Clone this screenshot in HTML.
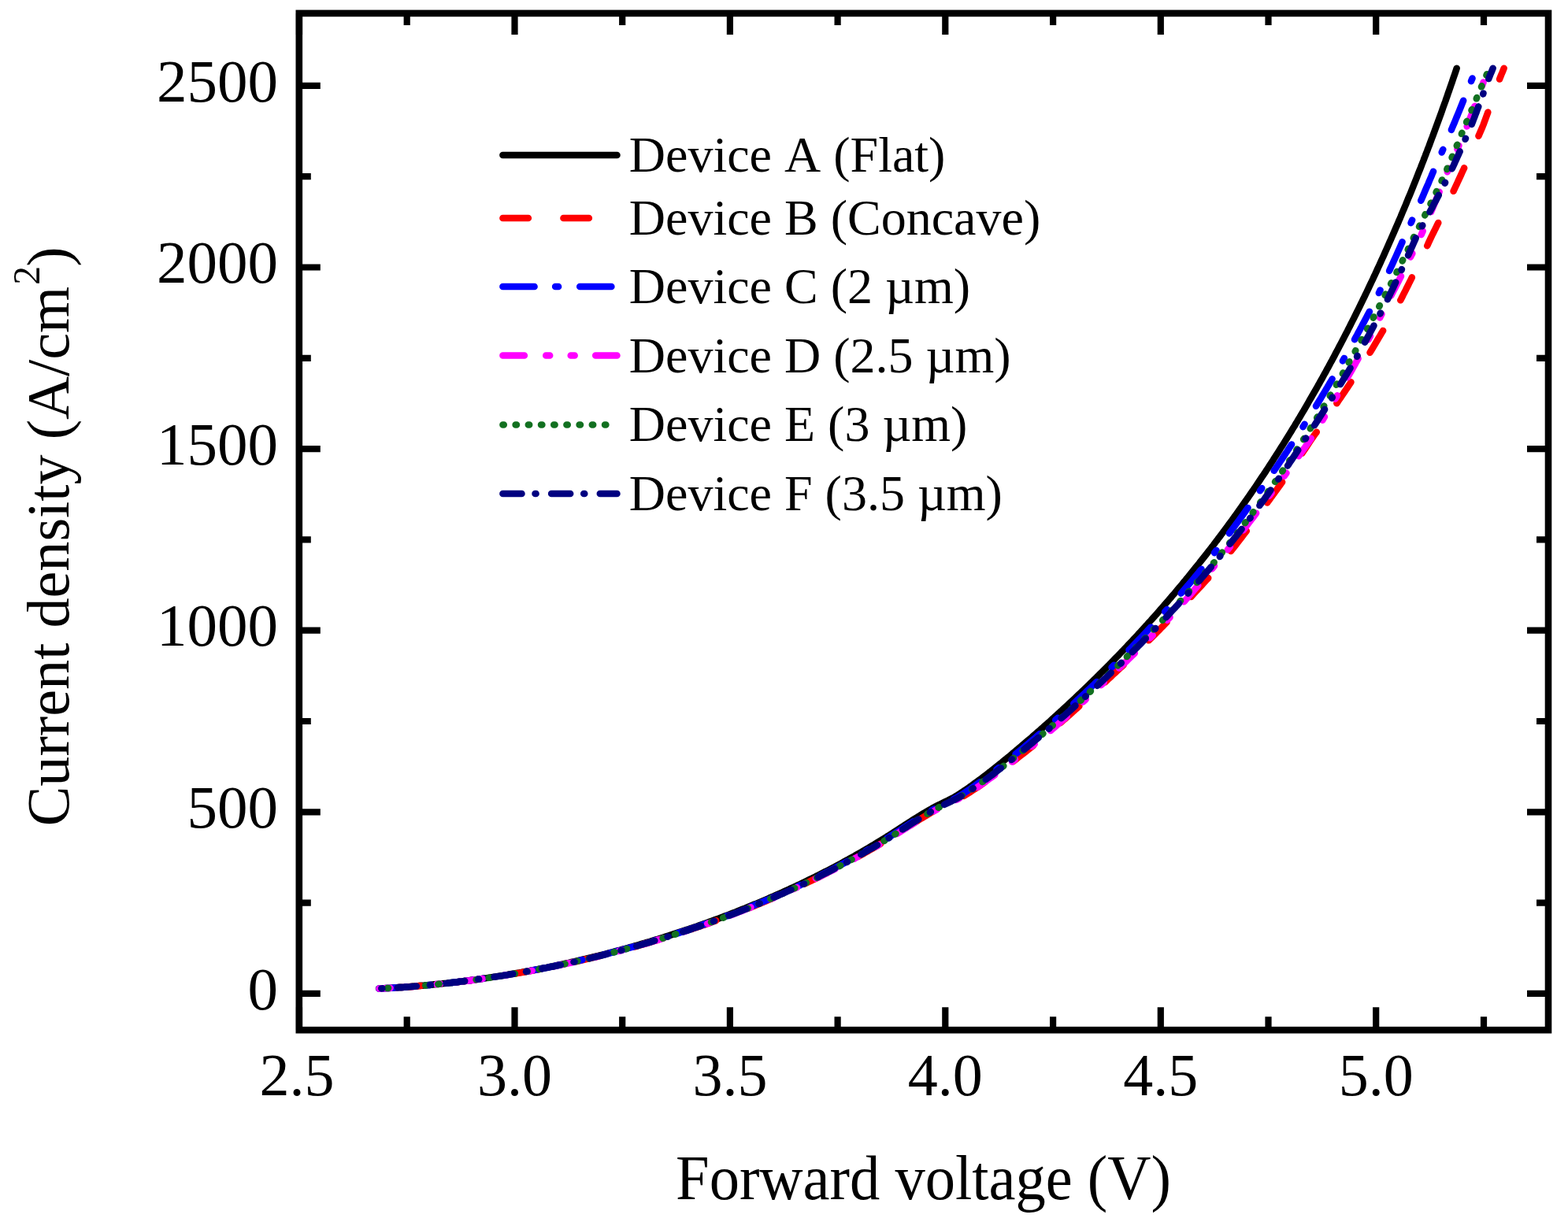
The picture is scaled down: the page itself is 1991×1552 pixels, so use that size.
<!DOCTYPE html>
<html><head><meta charset="utf-8"><title>Current density vs forward voltage</title>
<style>html,body{margin:0;padding:0;background:#fff;}svg{display:block;}</style></head>
<body>
<svg width="1991" height="1552" viewBox="0 0 1991 1552">
<rect width="1991" height="1552" fill="#fff"/>
<g fill="none" stroke-width="8.5" stroke-linecap="round" stroke-linejoin="round">
<path d="M481.0,1255.6 L484.2,1255.4 L487.4,1255.3 L490.6,1255.1 L493.8,1254.9 L497.0,1254.7 L500.2,1254.5 L503.4,1254.3 L506.6,1254.1 L509.8,1253.9 L513.0,1253.7 L516.2,1253.4 L519.4,1253.2 L522.6,1252.9 L525.8,1252.7 L529.0,1252.4 L532.2,1252.1 L535.4,1251.8 L538.6,1251.6 L541.8,1251.3 L544.9,1251.0 L548.1,1250.7 L551.3,1250.3 L554.5,1250.0 L557.7,1249.7 L560.9,1249.4 L564.1,1249.0 L567.3,1248.7 L570.5,1248.3 L573.6,1247.9 L576.8,1247.6 L580.0,1247.2 L583.2,1246.8 L586.4,1246.4 L589.6,1246.0 L592.7,1245.6 L595.9,1245.2 L599.1,1244.7 L602.3,1244.3 L605.4,1243.9 L608.6,1243.4 L611.8,1243.0 L615.0,1242.5 L618.1,1242.1 L621.3,1241.6 L624.5,1241.1 L627.7,1240.6 L630.8,1240.1 L634.0,1239.6 L637.2,1239.1 L640.3,1238.6 L643.5,1238.1 L646.6,1237.5 L649.8,1237.0 L653.0,1236.5 L656.1,1235.9 L659.3,1235.4 L662.4,1234.8 L665.6,1234.2 L668.8,1233.6 L671.9,1233.1 L675.1,1232.5 L678.2,1231.9 L681.4,1231.3 L684.5,1230.6 L687.7,1230.0 L690.8,1229.4 L693.9,1228.8 L697.1,1228.1 L700.2,1227.5 L703.4,1226.8 L706.5,1226.2 L709.6,1225.5 L712.8,1224.8 L715.9,1224.1 L719.1,1223.4 L722.2,1222.8 L725.3,1222.0 L728.4,1221.3 L731.6,1220.6 L734.7,1219.9 L737.8,1219.2 L740.9,1218.4 L744.1,1217.7 L747.2,1216.9 L750.3,1216.2 L753.4,1215.4 L756.5,1214.6 L759.6,1213.9 L762.7,1213.1 L765.9,1212.3 L769.0,1211.5 L772.1,1210.7 L775.2,1209.9 L778.3,1209.1 L781.4,1208.2 L784.5,1207.4 L787.6,1206.6 L790.7,1205.7 L793.8,1204.9 L796.9,1204.0 L799.9,1203.1 L803.0,1202.3 L806.1,1201.4 L809.2,1200.5 L812.3,1199.6 L815.4,1198.7 L818.4,1197.8 L821.5,1196.9 L824.6,1196.0 L827.7,1195.0 L830.7,1194.1 L833.8,1193.2 L836.9,1192.2 L839.9,1191.3 L843.0,1190.3 L846.0,1189.3 L849.1,1188.4 L852.2,1187.4 L855.2,1186.4 L858.3,1185.4 L861.3,1184.4 L864.4,1183.4 L867.4,1182.4 L870.4,1181.4 L873.5,1180.4 L876.5,1179.3 L879.6,1178.3 L882.6,1177.2 L885.6,1176.2 L888.6,1175.1 L891.7,1174.1 L894.7,1173.0 L897.7,1171.9 L900.7,1170.8 L903.7,1169.7 L906.8,1168.6 L909.8,1167.5 L912.8,1166.4 L915.8,1165.3 L918.8,1164.1 L921.8,1163.0 L924.8,1161.9 L927.8,1160.7 L930.8,1159.5 L933.8,1158.4 L936.7,1157.2 L939.7,1156.0 L942.7,1154.8 L945.7,1153.7 L948.6,1152.5 L951.6,1151.2 L954.6,1150.0 L957.5,1148.8 L960.5,1147.6 L963.5,1146.3 L966.4,1145.1 L969.4,1143.8 L972.3,1142.6 L975.3,1141.3 L978.2,1140.0 L981.2,1138.8 L984.1,1137.5 L987.0,1136.2 L989.9,1134.9 L992.9,1133.5 L995.8,1132.2 L998.7,1130.9 L1001.6,1129.6 L1004.5,1128.2 L1007.5,1126.9 L1010.4,1125.5 L1013.3,1124.1 L1016.2,1122.8 L1019.1,1121.4 L1021.9,1120.0 L1024.8,1118.6 L1027.7,1117.2 L1030.6,1115.8 L1033.5,1114.4 L1036.3,1112.9 L1039.2,1111.5 L1042.1,1110.0 L1044.9,1108.6 L1047.8,1107.1 L1050.6,1105.7 L1053.5,1104.2 L1056.3,1102.7 L1059.2,1101.2 L1062.0,1099.7 L1064.8,1098.2 L1067.7,1096.7 L1070.5,1095.1 L1073.3,1093.6 L1076.1,1092.1 L1078.9,1090.5 L1081.7,1088.9 L1084.5,1087.4 L1087.3,1085.8 L1090.1,1084.2 L1092.9,1082.6 L1095.7,1081.0 L1098.4,1079.4 L1101.2,1077.8 L1104.0,1076.1 L1106.7,1074.5 L1109.5,1072.8 L1112.2,1071.2 L1115.0,1069.5 L1117.7,1067.8 L1120.4,1066.1 L1123.2,1064.5 L1125.9,1062.7 L1128.6,1061.0 L1131.3,1059.3 L1134.0,1057.6 L1136.7,1055.8 L1139.4,1054.1 L1142.1,1052.4 L1144.8,1050.6 L1147.5,1048.9 L1150.2,1047.1 L1152.9,1045.4 L1155.6,1043.7 L1158.3,1041.9 L1161.0,1040.2 L1163.7,1038.5 L1166.4,1036.8 L1169.1,1035.2 L1171.9,1033.5 L1174.6,1031.9 L1177.4,1030.3 L1180.1,1028.7 L1182.9,1027.1 L1185.7,1025.6 L1188.5,1024.1 L1191.4,1022.6 L1194.2,1021.2 L1197.0,1019.8 L1199.9,1018.4 L1202.8,1017.0 L1205.6,1015.6 L1208.5,1014.2 L1211.3,1012.6 L1214.0,1011.0 L1216.7,1009.3 L1219.4,1007.6 L1222.1,1005.8 L1224.7,1004.0 L1227.4,1002.2 L1230.0,1000.4 L1232.6,998.6 L1235.2,996.7 L1237.8,994.8 L1240.4,992.9 L1243.0,991.0 L1245.6,989.1 L1248.1,987.2 L1250.7,985.3 L1253.2,983.3 L1255.7,981.3 L1258.3,979.4 L1260.8,977.4 L1263.3,975.4 L1265.8,973.4 L1268.3,971.4 L1270.8,969.4 L1273.3,967.3 L1275.7,965.3 L1278.2,963.3 L1280.7,961.2 L1283.2,959.2 L1285.6,957.1 L1288.1,955.1 L1290.5,953.0 L1293.0,950.9 L1295.5,948.9 L1297.9,946.8 L1300.3,944.7 L1302.8,942.6 L1305.2,940.5 L1307.7,938.4 L1310.1,936.4 L1312.5,934.2 L1314.9,932.1 L1317.3,930.0 L1319.8,927.9 L1322.2,925.8 L1324.6,923.7 L1327.0,921.5 L1329.4,919.4 L1331.8,917.3 L1334.2,915.1 L1336.5,913.0 L1338.9,910.8 L1341.3,908.7 L1343.7,906.5 L1346.0,904.3 L1348.4,902.2 L1350.8,900.0 L1353.1,897.8 L1355.5,895.6 L1357.8,893.4 L1360.2,891.2 L1362.5,889.0 L1364.9,886.8 L1367.2,884.6 L1369.5,882.4 L1371.8,880.2 L1374.2,878.0 L1376.5,875.8 L1378.8,873.5 L1381.1,871.3 L1383.4,869.1 L1385.7,866.8 L1388.0,864.6 L1390.3,862.3 L1392.6,860.1 L1394.9,857.8 L1397.1,855.5 L1399.4,853.3 L1401.7,851.0 L1404.0,848.7 L1406.2,846.5 L1408.5,844.2 L1410.7,841.9 L1413.0,839.6 L1415.2,837.3 L1417.4,835.0 L1419.7,832.7 L1421.9,830.4 L1424.1,828.0 L1426.4,825.7 L1428.6,823.4 L1430.8,821.1 L1433.0,818.7 L1435.2,816.4 L1437.4,814.1 L1439.6,811.7 L1441.8,809.4 L1444.0,807.0 L1446.1,804.7 L1448.3,802.3 L1450.5,799.9 L1452.6,797.6 L1454.8,795.2 L1457.0,792.8 L1459.1,790.4 L1461.3,788.0 L1463.4,785.6 L1465.5,783.3 L1467.7,780.9 L1469.8,778.4 L1471.9,776.0 L1474.0,773.6 L1476.1,771.2 L1478.2,768.8 L1480.3,766.4 L1482.4,763.9 L1484.5,761.5 L1486.6,759.1 L1488.7,756.6 L1490.8,754.2 L1492.9,751.7 L1494.9,749.3 L1497.0,746.8 L1499.0,744.4 L1501.1,741.9 L1503.1,739.4 L1505.2,737.0 L1507.2,734.5 L1509.3,732.0 L1511.3,729.5 L1513.3,727.0 L1515.3,724.5 L1517.3,722.0 L1519.3,719.5 L1521.4,717.0 L1523.3,714.5 L1525.3,712.0 L1527.3,709.5 L1529.3,707.0 L1531.3,704.5 L1533.3,701.9 L1535.2,699.4 L1537.2,696.9 L1539.1,694.3 L1541.1,691.8 L1543.0,689.2 L1545.0,686.7 L1546.9,684.1 L1548.8,681.6 L1550.7,679.0 L1552.7,676.4 L1554.6,673.9 L1556.5,671.3 L1558.4,668.7 L1560.3,666.1 L1562.2,663.5 L1564.1,660.9 L1565.9,658.4 L1567.8,655.8 L1569.7,653.2 L1571.6,650.6 L1573.4,647.9 L1575.3,645.3 L1577.1,642.7 L1579.0,640.1 L1580.8,637.5 L1582.6,634.9 L1584.5,632.2 L1586.3,629.6 L1588.1,627.0 L1589.9,624.3 L1591.8,621.7 L1593.6,619.0 L1595.4,616.4 L1597.2,613.7 L1598.9,611.1 L1600.7,608.4 L1602.5,605.7 L1604.3,603.1 L1606.1,600.4 L1607.8,597.7 L1609.6,595.1 L1611.3,592.4 L1613.1,589.7 L1614.8,587.0 L1616.6,584.3 L1618.3,581.6 L1620.0,578.9 L1621.8,576.2 L1623.5,573.5 L1625.2,570.8 L1626.9,568.1 L1628.6,565.4 L1630.3,562.7 L1632.0,560.0 L1633.7,557.2 L1635.4,554.5 L1637.1,551.8 L1638.8,549.1 L1640.4,546.3 L1642.1,543.6 L1643.8,540.9 L1645.4,538.1 L1647.1,535.4 L1648.7,532.6 L1650.4,529.9 L1652.0,527.1 L1653.6,524.4 L1655.3,521.6 L1656.9,518.8 L1658.5,516.1 L1660.1,513.3 L1661.7,510.5 L1663.3,507.7 L1664.9,505.0 L1666.5,502.2 L1668.1,499.4 L1669.7,496.6 L1671.3,493.8 L1672.9,491.0 L1674.5,488.2 L1676.0,485.4 L1677.6,482.6 L1679.2,479.8 L1680.7,477.0 L1682.3,474.2 L1683.8,471.4 L1685.3,468.6 L1686.9,465.8 L1688.4,463.0 L1689.9,460.1 L1691.5,457.3 L1693.0,454.5 L1694.5,451.7 L1696.0,448.8 L1697.5,446.0 L1699.0,443.2 L1700.5,440.3 L1702.0,437.5 L1703.5,434.6 L1705.0,431.8 L1706.5,428.9 L1707.9,426.1 L1709.4,423.2 L1710.9,420.4 L1712.3,417.5 L1713.8,414.7 L1715.2,411.8 L1716.7,408.9 L1718.1,406.1 L1719.6,403.2 L1721.0,400.3 L1722.4,397.5 L1723.8,394.6 L1725.3,391.7 L1726.7,388.8 L1728.1,385.9 L1729.5,383.1 L1730.9,380.2 L1732.3,377.3 L1733.7,374.4 L1735.1,371.5 L1736.5,368.6 L1737.9,365.7 L1739.2,362.8 L1740.6,359.9 L1742.0,357.0 L1743.4,354.1 L1744.7,351.2 L1746.1,348.3 L1747.4,345.4 L1748.8,342.4 L1750.1,339.5 L1751.5,336.6 L1752.8,333.7 L1754.1,330.8 L1755.5,327.8 L1756.8,324.9 L1758.1,322.0 L1759.4,319.1 L1760.7,316.1 L1762.0,313.2 L1763.3,310.3 L1764.6,307.3 L1765.9,304.4 L1767.2,301.4 L1768.5,298.5 L1769.8,295.5 L1771.1,292.6 L1772.3,289.7 L1773.6,286.7 L1774.9,283.8 L1776.1,280.8 L1777.4,277.9 L1778.7,274.9 L1779.9,271.9 L1781.1,269.0 L1782.4,266.0 L1783.6,263.1 L1784.9,260.1 L1786.1,257.1 L1787.3,254.2 L1788.5,251.2 L1789.8,248.2 L1791.0,245.3 L1792.2,242.3 L1793.4,239.3 L1794.6,236.3 L1795.8,233.4 L1797.0,230.4 L1798.2,227.4 L1799.4,224.4 L1800.5,221.4 L1801.7,218.4 L1802.9,215.5 L1804.1,212.5 L1805.2,209.5 L1806.4,206.5 L1807.6,203.5 L1808.7,200.5 L1809.9,197.5 L1811.0,194.5 L1812.2,191.5 L1813.3,188.5 L1814.5,185.5 L1815.6,182.5 L1816.7,179.5 L1817.8,176.5 L1819.0,173.5 L1820.1,170.5 L1821.2,167.5 L1822.3,164.5 L1823.4,161.5 L1824.5,158.5 L1825.6,155.5 L1826.7,152.5 L1827.8,149.5 L1828.9,146.5 L1830.0,143.5 L1831.1,140.4 L1832.1,137.4 L1833.2,134.4 L1834.3,131.4 L1835.4,128.4 L1836.4,125.4 L1837.5,122.3 L1838.5,119.3 L1839.6,116.3 L1840.6,113.3 L1841.7,110.3 L1842.7,107.2 L1843.8,104.2 L1844.8,101.2 L1845.8,98.2 L1846.9,95.1 L1847.9,92.1 L1848.9,89.1 L1849.7,86.7" stroke="#000000"/>
<path d="M481.4,1255.6 L484.6,1255.4 L487.8,1255.3 L491.0,1255.1 L494.3,1254.9 L497.5,1254.7 L500.7,1254.5 L503.9,1254.3 L507.1,1254.1 L510.3,1253.9 L513.5,1253.7 L516.7,1253.4 L520.0,1253.2 L523.2,1252.9 L526.4,1252.7 L529.6,1252.4 L532.8,1252.1 L536.0,1251.8 L539.2,1251.6 L542.4,1251.3 L545.7,1251.0 L548.9,1250.7 L552.1,1250.3 L555.3,1250.0 L558.5,1249.7 L561.7,1249.4 L564.9,1249.0 L568.1,1248.7 L571.3,1248.3 L574.6,1247.9 L577.8,1247.6 L581.0,1247.2 L584.2,1246.8 L587.4,1246.4 L590.6,1246.0 L593.8,1245.6 L597.0,1245.2 L600.2,1244.7 L603.4,1244.3 L606.6,1243.9 L609.8,1243.4 L613.0,1243.0 L616.2,1242.5 L619.4,1242.1 L622.6,1241.6 L625.8,1241.1 L629.0,1240.6 L632.2,1240.1 L635.4,1239.6 L638.6,1239.1 L641.8,1238.6 L645.0,1238.1 L648.2,1237.5 L651.4,1237.0 L654.6,1236.5 L657.8,1235.9 L661.0,1235.4 L664.2,1234.8 L667.4,1234.2 L670.6,1233.6 L673.8,1233.1 L677.0,1232.5 L680.2,1231.9 L683.4,1231.3 L686.5,1230.6 L689.7,1230.0 L692.9,1229.4 L696.1,1228.8 L699.3,1228.1 L702.5,1227.5 L705.7,1226.8 L708.8,1226.2 L712.0,1225.5 L715.2,1224.8 L718.4,1224.1 L721.6,1223.4 L724.7,1222.8 L727.9,1222.0 L731.1,1221.3 L734.3,1220.6 L737.4,1219.9 L740.6,1219.2 L743.8,1218.4 L746.9,1217.7 L750.1,1216.9 L753.3,1216.2 L756.4,1215.4 L759.6,1214.6 L762.7,1213.9 L765.8,1213.1 L768.9,1212.3 L772.1,1211.5 L775.2,1210.7 L778.3,1209.9 L781.4,1209.1 L784.5,1208.2 L787.7,1207.4 L790.8,1206.6 L793.9,1205.7 L797.0,1204.9 L800.1,1204.0 L803.2,1203.1 L806.3,1202.3 L809.4,1201.4 L812.5,1200.5 L815.6,1199.6 L818.7,1198.7 L821.8,1197.8 L824.9,1196.9 L828.0,1196.0 L831.1,1195.0 L834.2,1194.1 L837.3,1193.2 L840.4,1192.2 L843.5,1191.3 L846.5,1190.3 L849.6,1189.3 L852.7,1188.4 L855.8,1187.4 L858.8,1186.4 L861.9,1185.4 L865.0,1184.4 L868.1,1183.4 L871.1,1182.4 L874.2,1181.4 L877.3,1180.4 L880.3,1179.3 L883.4,1178.3 L886.4,1177.2 L889.5,1176.2 L892.5,1175.1 L895.6,1174.1 L898.6,1173.0 L901.7,1171.9 L904.7,1170.8 L907.7,1169.7 L910.8,1168.6 L913.8,1167.5 L916.8,1166.4 L919.9,1165.3 L922.9,1164.1 L925.9,1163.0 L928.9,1161.9 L932.0,1160.7 L935.0,1159.5 L938.0,1158.4 L941.0,1157.2 L944.0,1156.0 L947.0,1154.8 L950.0,1153.7 L953.0,1152.5 L956.0,1151.2 L959.0,1150.0 L962.0,1148.8 L965.0,1147.6 L968.0,1146.3 L971.0,1145.1 L973.9,1143.8 L976.9,1142.6 L979.9,1141.3 L982.9,1140.0 L985.8,1138.8 L988.8,1137.5 L991.7,1136.2 L994.7,1134.9 L997.7,1133.5 L1000.6,1132.2 L1003.6,1130.9 L1006.5,1129.6 L1009.4,1128.2 L1012.4,1126.9 L1015.3,1125.5 L1018.2,1124.1 L1021.2,1122.8 L1024.1,1121.4 L1027.1,1120.0 L1030.0,1118.6 L1032.9,1117.2 L1035.8,1115.8 L1038.8,1114.4 L1041.7,1112.9 L1044.6,1111.5 L1047.5,1110.0 L1050.4,1108.6 L1053.3,1107.1 L1056.2,1105.7 L1059.1,1104.2 L1062.0,1102.7 L1064.9,1101.2 L1067.8,1099.7 L1070.7,1098.2 L1073.5,1096.7 L1076.4,1095.1 L1079.3,1093.6 L1082.1,1092.1 L1085.0,1090.5 L1087.8,1088.9 L1090.7,1087.4 L1093.5,1085.8 L1096.4,1084.2 L1099.2,1082.6 L1102.0,1081.0 L1104.9,1079.4 L1107.7,1077.8 L1110.5,1076.1 L1113.3,1074.5 L1116.1,1072.8 L1118.9,1071.2 L1121.7,1069.5 L1124.5,1067.8 L1127.3,1066.1 L1130.1,1064.5 L1132.9,1062.7 L1135.6,1061.0 L1138.4,1059.3 L1141.1,1057.6 L1143.9,1055.8 L1146.7,1054.1 L1149.4,1052.4 L1152.2,1050.6 L1154.9,1048.9 L1157.7,1047.1 L1160.4,1045.4 L1163.2,1043.7 L1165.9,1041.9 L1168.7,1040.2 L1171.5,1038.5 L1174.2,1036.8 L1177.0,1035.2 L1179.8,1033.5 L1182.6,1031.9 L1185.5,1030.3 L1188.4,1028.7 L1191.2,1027.1 L1194.2,1025.6 L1197.1,1024.1 L1200.0,1022.6 L1203.0,1021.2 L1205.9,1019.8 L1208.9,1018.4 L1211.9,1017.0 L1214.8,1015.6 L1217.8,1014.2 L1220.7,1012.6 L1223.6,1011.0 L1226.4,1009.3 L1229.2,1007.6 L1232.0,1005.8 L1234.8,1004.0 L1237.6,1002.2 L1240.4,1000.4 L1243.1,998.6 L1245.9,996.7 L1248.6,994.8 L1251.3,992.9 L1254.0,991.0 L1256.8,989.1 L1259.5,987.2 L1262.2,985.3 L1264.8,983.3 L1267.5,981.3 L1270.2,979.4 L1272.9,977.4 L1275.5,975.4 L1278.2,973.4 L1280.8,971.4 L1283.5,969.4 L1286.1,967.3 L1288.8,965.3 L1291.4,963.3 L1294.0,961.2 L1296.6,959.2 L1299.3,957.1 L1301.9,955.1 L1304.5,953.0 L1307.1,950.9 L1309.7,948.9 L1312.3,946.8 L1314.9,944.7 L1317.5,942.6 L1320.1,940.5 L1322.7,938.4 L1325.2,936.4 L1327.6,934.2 L1330.1,932.1 L1332.6,930.0 L1335.1,927.9 L1337.5,925.8 L1340.0,923.7 L1342.5,921.5 L1344.9,919.4 L1347.4,917.3 L1349.8,915.1 L1352.3,913.0 L1354.7,910.8 L1357.1,908.7 L1359.6,906.5 L1362.0,904.3 L1364.4,902.2 L1366.8,900.0 L1369.3,897.8 L1371.7,895.6 L1374.1,893.4 L1376.5,891.2 L1378.9,889.0 L1381.3,886.8 L1383.7,884.6 L1386.1,882.4 L1388.4,880.2 L1390.8,878.0 L1393.2,875.8 L1395.6,873.5 L1397.9,871.3 L1400.3,869.1 L1402.7,866.8 L1405.1,864.6 L1407.5,862.3 L1410.0,860.1 L1412.4,857.8 L1414.8,855.5 L1417.3,853.3 L1419.7,851.0 L1422.1,848.7 L1424.5,846.5 L1427.0,844.2 L1429.4,841.9 L1431.8,839.6 L1434.2,837.3 L1436.6,835.0 L1439.0,832.7 L1441.4,830.4 L1443.8,828.0 L1446.1,825.7 L1448.5,823.4 L1450.9,821.1 L1453.3,818.7 L1455.6,816.4 L1458.0,814.1 L1460.3,811.7 L1462.7,809.4 L1465.1,807.0 L1467.4,804.7 L1469.7,802.3 L1472.1,799.9 L1474.4,797.6 L1476.7,795.2 L1479.1,792.8 L1481.4,790.4 L1483.7,788.0 L1486.0,785.6 L1488.3,783.3 L1490.6,780.9 L1492.9,778.4 L1495.2,776.0 L1497.5,773.6 L1499.8,771.2 L1502.1,768.8 L1504.4,766.4 L1506.7,763.9 L1509.0,761.5 L1511.3,759.1 L1513.6,756.6 L1515.8,754.2 L1518.1,751.7 L1520.4,749.3 L1522.6,746.8 L1524.9,744.4 L1527.1,741.9 L1529.4,739.4 L1531.6,737.0 L1533.9,734.5 L1536.1,732.0 L1538.3,729.5 L1540.5,727.0 L1542.7,724.5 L1545.0,722.0 L1547.2,719.5 L1549.4,717.0 L1551.4,714.5 L1553.4,712.0 L1555.4,709.5 L1557.4,707.0 L1559.4,704.5 L1561.4,701.9 L1563.4,699.4 L1565.4,696.9 L1567.4,694.3 L1569.4,691.8 L1571.4,689.2 L1573.3,686.7 L1575.3,684.1 L1577.3,681.6 L1579.2,679.0 L1581.2,676.4 L1583.1,673.9 L1585.1,671.3 L1587.0,668.7 L1588.9,666.1 L1590.8,663.5 L1592.8,660.9 L1594.7,658.4 L1596.6,655.8 L1598.5,653.2 L1600.4,650.6 L1602.3,647.9 L1604.2,645.3 L1606.0,642.7 L1607.9,640.1 L1609.8,637.5 L1611.7,634.9 L1613.6,632.2 L1615.6,629.6 L1617.5,627.0 L1619.4,624.3 L1621.3,621.7 L1623.2,619.0 L1625.1,616.4 L1627.0,613.7 L1628.9,611.1 L1630.8,608.4 L1632.7,605.7 L1634.5,603.1 L1636.4,600.4 L1638.3,597.7 L1640.1,595.1 L1642.0,592.4 L1643.8,589.7 L1645.7,587.0 L1647.5,584.3 L1649.4,581.6 L1651.2,578.9 L1653.0,576.2 L1654.8,573.5 L1656.7,570.8 L1658.5,568.1 L1660.3,565.4 L1662.1,562.7 L1663.9,560.0 L1665.7,557.2 L1667.6,554.5 L1669.5,551.8 L1671.5,549.1 L1673.5,546.3 L1675.4,543.6 L1677.4,540.9 L1679.3,538.1 L1681.3,535.4 L1683.2,532.6 L1685.1,529.9 L1687.0,527.1 L1689.0,524.4 L1690.9,521.6 L1692.8,518.8 L1694.7,516.1 L1696.6,513.3 L1698.5,510.5 L1700.4,507.7 L1702.3,505.0 L1704.2,502.2 L1706.1,499.4 L1707.9,496.6 L1709.8,493.8 L1711.7,491.0 L1713.6,488.2 L1715.4,485.4 L1717.3,482.6 L1719.1,479.8 L1721.0,477.0 L1722.8,474.2 L1724.7,471.4 L1726.5,468.6 L1728.3,465.8 L1730.1,463.0 L1732.0,460.1 L1733.7,457.3 L1735.4,454.5 L1737.2,451.7 L1738.9,448.8 L1740.6,446.0 L1742.3,443.2 L1744.0,440.3 L1745.7,437.5 L1747.4,434.6 L1749.1,431.8 L1750.8,428.9 L1752.5,426.1 L1754.2,423.2 L1755.9,420.4 L1757.5,417.5 L1759.2,414.7 L1760.9,411.8 L1762.5,408.9 L1764.2,406.1 L1765.8,403.2 L1767.5,400.3 L1769.1,397.5 L1770.8,394.6 L1772.4,391.7 L1774.0,388.8 L1775.7,385.9 L1777.3,383.1 L1778.9,380.2 L1780.4,377.3 L1781.8,374.4 L1783.3,371.5 L1784.8,368.6 L1786.2,365.7 L1787.7,362.8 L1789.1,359.9 L1790.6,357.0 L1792.0,354.1 L1793.4,351.2 L1794.9,348.3 L1796.3,345.4 L1797.7,342.4 L1799.1,339.5 L1800.5,336.6 L1802.0,333.7 L1803.4,330.8 L1804.8,327.8 L1806.2,324.9 L1807.5,322.0 L1808.9,319.1 L1810.3,316.1 L1811.7,313.2 L1813.1,310.3 L1814.4,307.3 L1815.8,304.4 L1817.2,301.4 L1818.6,298.5 L1820.1,295.5 L1821.5,292.6 L1823.0,289.7 L1824.4,286.7 L1825.9,283.8 L1827.3,280.8 L1828.8,277.9 L1830.2,274.9 L1831.7,271.9 L1833.1,269.0 L1834.5,266.0 L1835.9,263.1 L1837.4,260.1 L1838.8,257.1 L1840.2,254.2 L1841.6,251.2 L1843.0,248.2 L1844.4,245.3 L1845.8,242.3 L1847.2,239.3 L1848.6,236.3 L1850.0,233.4 L1851.3,230.4 L1852.7,227.4 L1854.1,224.4 L1855.5,221.4 L1856.8,218.4 L1858.2,215.5 L1859.6,212.5 L1861.0,209.5 L1862.3,206.5 L1863.7,203.5 L1865.0,200.5 L1866.4,197.5 L1867.7,194.5 L1869.1,191.5 L1870.4,188.5 L1871.8,185.5 L1873.1,182.5 L1874.4,179.5 L1875.7,176.5 L1877.1,173.5 L1878.4,170.5 L1879.7,167.5 L1881.0,164.5 L1882.3,161.5 L1883.5,158.5 L1884.6,155.5 L1885.7,152.5 L1886.8,149.5 L1887.9,146.5 L1889.0,143.5 L1890.1,140.4 L1891.1,137.4 L1892.2,134.4 L1893.3,131.4 L1894.4,128.4 L1895.4,125.4 L1896.5,122.3 L1897.5,119.3 L1898.6,116.3 L1899.6,113.3 L1900.7,110.3 L1901.7,107.2 L1902.8,104.2 L1903.8,101.2 L1905.0,98.2 L1906.2,95.1 L1907.5,92.1 L1908.7,89.1 L1909.7,86.7" stroke="#ff0000" stroke-dasharray="32.5 44.5" stroke-dashoffset="56.4"/>
<path d="M481.2,1255.6 L484.4,1255.4 L487.6,1255.3 L490.8,1255.1 L494.0,1254.9 L497.2,1254.7 L500.4,1254.5 L503.7,1254.3 L506.9,1254.1 L510.1,1253.9 L513.3,1253.7 L516.5,1253.4 L519.7,1253.2 L522.9,1252.9 L526.1,1252.7 L529.3,1252.4 L532.5,1252.1 L535.7,1251.8 L538.9,1251.6 L542.1,1251.3 L545.3,1251.0 L548.5,1250.7 L551.7,1250.3 L554.9,1250.0 L558.1,1249.7 L561.3,1249.4 L564.5,1249.0 L567.7,1248.7 L570.9,1248.3 L574.1,1247.9 L577.3,1247.6 L580.5,1247.2 L583.7,1246.8 L586.9,1246.4 L590.1,1246.0 L593.3,1245.6 L596.5,1245.2 L599.7,1244.7 L602.8,1244.3 L606.0,1243.9 L609.2,1243.4 L612.4,1243.0 L615.6,1242.5 L618.8,1242.1 L622.0,1241.6 L625.2,1241.1 L628.3,1240.6 L631.5,1240.1 L634.7,1239.6 L637.9,1239.1 L641.1,1238.6 L644.3,1238.1 L647.4,1237.5 L650.6,1237.0 L653.8,1236.5 L657.0,1235.9 L660.2,1235.4 L663.3,1234.8 L666.5,1234.2 L669.7,1233.6 L672.8,1233.1 L676.0,1232.5 L679.2,1231.9 L682.4,1231.3 L685.5,1230.6 L688.7,1230.0 L691.9,1229.4 L695.0,1228.8 L698.2,1228.1 L701.4,1227.5 L704.5,1226.8 L707.7,1226.2 L710.8,1225.5 L714.0,1224.8 L717.1,1224.1 L720.3,1223.4 L723.5,1222.8 L726.6,1222.0 L729.8,1221.3 L732.9,1220.6 L736.1,1219.9 L739.2,1219.2 L742.4,1218.4 L745.5,1217.7 L748.6,1216.9 L751.8,1216.2 L754.9,1215.4 L758.0,1214.6 L761.2,1213.9 L764.3,1213.1 L767.4,1212.3 L770.5,1211.5 L773.7,1210.7 L776.8,1209.9 L779.9,1209.1 L783.0,1208.2 L786.1,1207.4 L789.2,1206.6 L792.3,1205.7 L795.4,1204.9 L798.5,1204.0 L801.6,1203.1 L804.7,1202.3 L807.8,1201.4 L810.9,1200.5 L814.0,1199.6 L817.1,1198.7 L820.2,1197.8 L823.3,1196.9 L826.4,1196.0 L829.5,1195.0 L832.6,1194.1 L835.7,1193.2 L838.7,1192.2 L841.8,1191.3 L844.9,1190.3 L848.0,1189.3 L851.0,1188.4 L854.1,1187.4 L857.2,1186.4 L860.3,1185.4 L863.3,1184.4 L866.4,1183.4 L869.4,1182.4 L872.5,1181.4 L875.6,1180.4 L878.6,1179.3 L881.7,1178.3 L884.7,1177.2 L887.8,1176.2 L890.8,1175.1 L893.8,1174.1 L896.9,1173.0 L899.9,1171.9 L903.0,1170.8 L906.0,1169.7 L909.0,1168.6 L912.1,1167.5 L915.1,1166.4 L918.1,1165.3 L921.1,1164.1 L924.1,1163.0 L927.2,1161.9 L930.2,1160.7 L933.2,1159.5 L936.2,1158.4 L939.2,1157.2 L942.2,1156.0 L945.2,1154.8 L948.2,1153.7 L951.2,1152.5 L954.2,1151.2 L957.2,1150.0 L960.1,1148.8 L963.1,1147.6 L966.1,1146.3 L969.1,1145.1 L972.0,1143.8 L975.0,1142.6 L978.0,1141.3 L980.9,1140.0 L983.9,1138.8 L986.9,1137.5 L989.8,1136.2 L992.8,1134.9 L995.7,1133.5 L998.7,1132.2 L1001.6,1130.9 L1004.5,1129.6 L1007.5,1128.2 L1010.4,1126.9 L1013.3,1125.5 L1016.3,1124.1 L1019.2,1122.8 L1022.1,1121.4 L1025.0,1120.0 L1027.9,1118.6 L1030.8,1117.2 L1033.7,1115.8 L1036.6,1114.4 L1039.5,1112.9 L1042.3,1111.5 L1045.2,1110.0 L1048.1,1108.6 L1051.0,1107.1 L1053.8,1105.7 L1056.7,1104.2 L1059.6,1102.7 L1062.4,1101.2 L1065.3,1099.7 L1068.1,1098.2 L1070.9,1096.7 L1073.8,1095.1 L1076.6,1093.6 L1079.4,1092.1 L1082.3,1090.5 L1085.1,1088.9 L1087.9,1087.4 L1090.7,1085.8 L1093.5,1084.2 L1096.3,1082.6 L1099.1,1081.0 L1101.9,1079.4 L1104.7,1077.8 L1107.5,1076.1 L1110.2,1074.5 L1113.0,1072.8 L1115.8,1071.2 L1118.5,1069.5 L1121.3,1067.8 L1124.0,1066.1 L1126.8,1064.5 L1129.5,1062.7 L1132.3,1061.0 L1135.0,1059.3 L1137.7,1057.6 L1140.4,1055.8 L1143.2,1054.1 L1145.9,1052.4 L1148.6,1050.6 L1151.3,1048.9 L1154.0,1047.1 L1156.7,1045.4 L1159.4,1043.7 L1162.2,1041.9 L1164.9,1040.2 L1167.6,1038.5 L1170.4,1036.8 L1173.1,1035.2 L1175.9,1033.5 L1178.6,1031.9 L1181.4,1030.3 L1184.2,1028.7 L1187.0,1027.1 L1189.8,1025.6 L1192.6,1024.1 L1195.4,1022.6 L1198.3,1021.2 L1201.2,1019.8 L1204.1,1018.4 L1206.9,1017.0 L1209.8,1015.6 L1212.7,1014.2 L1215.5,1012.6 L1218.2,1011.0 L1221.0,1009.3 L1223.7,1007.6 L1226.4,1005.8 L1229.0,1004.0 L1231.7,1002.2 L1234.3,1000.4 L1237.0,998.6 L1239.6,996.7 L1242.2,994.8 L1244.8,992.9 L1247.4,991.0 L1250.0,989.1 L1252.6,987.2 L1255.2,985.3 L1257.7,983.3 L1260.3,981.3 L1262.8,979.4 L1265.4,977.4 L1267.9,975.4 L1270.4,973.4 L1272.9,971.4 L1275.4,969.4 L1278.0,967.3 L1280.5,965.3 L1283.0,963.3 L1285.5,961.2 L1287.9,959.2 L1290.4,957.1 L1292.9,955.1 L1295.4,953.0 L1297.9,950.9 L1300.3,948.9 L1302.8,946.8 L1305.3,944.7 L1307.7,942.6 L1310.2,940.5 L1312.7,938.4 L1315.1,936.4 L1317.6,934.2 L1320.0,932.1 L1322.5,930.0 L1324.9,927.9 L1327.3,925.8 L1329.8,923.7 L1332.2,921.5 L1334.6,919.4 L1337.1,917.3 L1339.5,915.1 L1341.9,913.0 L1344.3,910.8 L1346.7,908.7 L1349.1,906.5 L1351.5,904.3 L1353.9,902.2 L1356.3,900.0 L1358.7,897.8 L1361.1,895.6 L1363.5,893.4 L1365.8,891.2 L1368.2,889.0 L1370.6,886.8 L1372.9,884.6 L1375.3,882.4 L1377.6,880.2 L1380.0,878.0 L1382.3,875.8 L1384.7,873.5 L1387.0,871.3 L1389.4,869.1 L1391.7,866.8 L1394.0,864.6 L1396.4,862.3 L1398.7,860.1 L1401.0,857.8 L1403.4,855.5 L1405.7,853.3 L1408.0,851.0 L1410.3,848.7 L1412.7,846.5 L1415.0,844.2 L1417.3,841.9 L1419.6,839.6 L1421.9,837.3 L1424.2,835.0 L1426.4,832.7 L1428.7,830.4 L1431.0,828.0 L1433.3,825.7 L1435.6,823.4 L1437.8,821.1 L1440.1,818.7 L1442.3,816.4 L1444.6,814.1 L1446.8,811.7 L1449.1,809.4 L1451.3,807.0 L1453.6,804.7 L1455.8,802.3 L1458.0,799.9 L1460.2,797.6 L1462.4,795.2 L1464.7,792.8 L1466.9,790.4 L1469.1,788.0 L1471.3,785.6 L1473.5,783.3 L1475.6,780.9 L1477.8,778.4 L1480.0,776.0 L1482.1,773.6 L1484.3,771.2 L1486.4,768.8 L1488.6,766.4 L1490.7,763.9 L1492.8,761.5 L1495.0,759.1 L1497.1,756.6 L1499.2,754.2 L1501.3,751.7 L1503.4,749.3 L1505.5,746.8 L1507.6,744.4 L1509.7,741.9 L1511.8,739.4 L1513.9,737.0 L1516.0,734.5 L1518.0,732.0 L1520.1,729.5 L1522.2,727.0 L1524.2,724.5 L1526.3,722.0 L1528.3,719.5 L1530.4,717.0 L1532.3,714.5 L1534.3,712.0 L1536.3,709.5 L1538.3,707.0 L1540.3,704.5 L1542.3,701.9 L1544.2,699.4 L1546.2,696.9 L1548.1,694.3 L1550.1,691.8 L1552.0,689.2 L1554.0,686.7 L1555.9,684.1 L1557.8,681.6 L1559.7,679.0 L1561.7,676.4 L1563.6,673.9 L1565.5,671.3 L1567.4,668.7 L1569.3,666.1 L1571.2,663.5 L1573.1,660.9 L1574.9,658.4 L1576.8,655.8 L1578.7,653.2 L1580.6,650.6 L1582.4,647.9 L1584.3,645.3 L1586.1,642.7 L1588.0,640.1 L1589.8,637.5 L1591.7,634.9 L1593.6,632.2 L1595.5,629.6 L1597.4,627.0 L1599.2,624.3 L1601.1,621.7 L1603.0,619.0 L1604.9,616.4 L1606.7,613.7 L1608.6,611.1 L1610.4,608.4 L1612.3,605.7 L1614.1,603.1 L1616.0,600.4 L1617.8,597.7 L1619.6,595.1 L1621.4,592.4 L1623.3,589.7 L1625.1,587.0 L1626.9,584.3 L1628.7,581.6 L1630.5,578.9 L1632.3,576.2 L1634.1,573.5 L1635.8,570.8 L1637.6,568.1 L1639.4,565.4 L1641.2,562.7 L1642.9,560.0 L1644.7,557.2 L1646.5,554.5 L1648.2,551.8 L1650.0,549.1 L1651.7,546.3 L1653.5,543.6 L1655.2,540.9 L1657.0,538.1 L1658.7,535.4 L1660.5,532.6 L1662.2,529.9 L1663.9,527.1 L1665.6,524.4 L1667.4,521.6 L1669.1,518.8 L1670.8,516.1 L1672.5,513.3 L1674.2,510.5 L1675.9,507.7 L1677.6,505.0 L1679.2,502.2 L1680.9,499.4 L1682.6,496.6 L1684.3,493.8 L1685.9,491.0 L1687.6,488.2 L1689.2,485.4 L1690.9,482.6 L1692.5,479.8 L1694.2,477.0 L1695.8,474.2 L1697.5,471.4 L1699.1,468.6 L1700.7,465.8 L1702.3,463.0 L1703.9,460.1 L1705.5,457.3 L1707.1,454.5 L1708.7,451.7 L1710.3,448.8 L1711.9,446.0 L1713.4,443.2 L1715.0,440.3 L1716.6,437.5 L1718.1,434.6 L1719.7,431.8 L1721.2,428.9 L1722.8,426.1 L1724.3,423.2 L1725.9,420.4 L1727.4,417.5 L1728.9,414.7 L1730.4,411.8 L1732.0,408.9 L1733.5,406.1 L1735.0,403.2 L1736.5,400.3 L1738.0,397.5 L1739.5,394.6 L1741.0,391.7 L1742.5,388.8 L1744.0,385.9 L1745.4,383.1 L1746.9,380.2 L1748.3,377.3 L1749.7,374.4 L1751.1,371.5 L1752.5,368.6 L1753.9,365.7 L1755.2,362.8 L1756.6,359.9 L1758.0,357.0 L1759.4,354.1 L1760.7,351.2 L1762.1,348.3 L1763.4,345.4 L1764.8,342.4 L1766.1,339.5 L1767.5,336.6 L1768.8,333.7 L1770.1,330.8 L1771.5,327.8 L1772.8,324.9 L1774.1,322.0 L1775.4,319.1 L1776.7,316.1 L1778.0,313.2 L1779.3,310.3 L1780.6,307.3 L1781.9,304.4 L1783.2,301.4 L1784.5,298.5 L1785.9,295.5 L1787.2,292.6 L1788.6,289.7 L1789.9,286.7 L1791.3,283.8 L1792.6,280.8 L1793.9,277.9 L1795.3,274.9 L1796.6,271.9 L1797.9,269.0 L1799.2,266.0 L1800.6,263.1 L1801.9,260.1 L1803.2,257.1 L1804.5,254.2 L1805.8,251.2 L1807.1,248.2 L1808.3,245.3 L1809.6,242.3 L1810.9,239.3 L1812.2,236.3 L1813.5,233.4 L1814.7,230.4 L1816.0,227.4 L1817.3,224.4 L1818.5,221.4 L1819.8,218.4 L1821.1,215.5 L1822.5,212.5 L1823.8,209.5 L1825.1,206.5 L1826.4,203.5 L1827.7,200.5 L1829.0,197.5 L1830.3,194.5 L1831.6,191.5 L1832.9,188.5 L1834.2,185.5 L1835.5,182.5 L1836.7,179.5 L1838.0,176.5 L1839.3,173.5 L1840.6,170.5 L1841.8,167.5 L1843.1,164.5 L1844.3,161.5 L1845.6,158.5 L1846.9,155.5 L1848.1,152.5 L1849.3,149.5 L1850.6,146.5 L1851.8,143.5 L1853.1,140.4 L1854.3,137.4 L1855.5,134.4 L1856.7,131.4 L1857.9,128.4 L1859.2,125.4 L1860.4,122.3 L1861.6,119.3 L1862.8,116.3 L1864.0,113.3 L1865.2,110.3 L1866.4,107.2 L1867.6,104.2 L1868.8,101.2 L1870.1,98.2 L1871.6,95.1 L1873.0,92.1 L1874.5,89.1 L1875.6,86.7" stroke="#0000ff" stroke-dasharray="40.2 26.5 4 27.1" stroke-dashoffset="5.1"/>
<path d="M481.4,1255.6 L484.6,1255.4 L487.8,1255.3 L491.0,1255.1 L494.3,1254.9 L497.5,1254.7 L500.7,1254.5 L503.9,1254.3 L507.1,1254.1 L510.3,1253.9 L513.5,1253.7 L516.7,1253.4 L520.0,1253.2 L523.2,1252.9 L526.4,1252.7 L529.6,1252.4 L532.8,1252.1 L536.0,1251.8 L539.2,1251.6 L542.4,1251.3 L545.7,1251.0 L548.9,1250.7 L552.1,1250.3 L555.3,1250.0 L558.5,1249.7 L561.7,1249.4 L564.9,1249.0 L568.1,1248.7 L571.3,1248.3 L574.6,1247.9 L577.8,1247.6 L581.0,1247.2 L584.2,1246.8 L587.4,1246.4 L590.6,1246.0 L593.8,1245.6 L597.0,1245.2 L600.2,1244.7 L603.4,1244.3 L606.6,1243.9 L609.8,1243.4 L613.0,1243.0 L616.2,1242.5 L619.4,1242.1 L622.6,1241.6 L625.8,1241.1 L629.0,1240.6 L632.2,1240.1 L635.4,1239.6 L638.6,1239.1 L641.8,1238.6 L645.0,1238.1 L648.2,1237.5 L651.4,1237.0 L654.6,1236.5 L657.8,1235.9 L661.0,1235.4 L664.2,1234.8 L667.4,1234.2 L670.6,1233.6 L673.8,1233.1 L677.0,1232.5 L680.2,1231.9 L683.4,1231.3 L686.5,1230.6 L689.7,1230.0 L692.9,1229.4 L696.1,1228.8 L699.3,1228.1 L702.5,1227.5 L705.7,1226.8 L708.8,1226.2 L712.0,1225.5 L715.2,1224.8 L718.4,1224.1 L721.6,1223.4 L724.7,1222.8 L727.9,1222.0 L731.1,1221.3 L734.3,1220.6 L737.4,1219.9 L740.6,1219.2 L743.8,1218.4 L746.9,1217.7 L750.1,1216.9 L753.3,1216.2 L756.4,1215.4 L759.6,1214.6 L762.7,1213.9 L765.8,1213.1 L768.9,1212.3 L772.1,1211.5 L775.2,1210.7 L778.3,1209.9 L781.4,1209.1 L784.5,1208.2 L787.7,1207.4 L790.8,1206.6 L793.9,1205.7 L797.0,1204.9 L800.1,1204.0 L803.2,1203.1 L806.3,1202.3 L809.4,1201.4 L812.5,1200.5 L815.6,1199.6 L818.7,1198.7 L821.8,1197.8 L824.9,1196.9 L828.0,1196.0 L831.1,1195.0 L834.2,1194.1 L837.3,1193.2 L840.4,1192.2 L843.5,1191.3 L846.5,1190.3 L849.6,1189.3 L852.7,1188.4 L855.8,1187.4 L858.8,1186.4 L861.9,1185.4 L865.0,1184.4 L868.1,1183.4 L871.1,1182.4 L874.2,1181.4 L877.3,1180.4 L880.3,1179.3 L883.4,1178.3 L886.4,1177.2 L889.5,1176.2 L892.5,1175.1 L895.6,1174.1 L898.6,1173.0 L901.7,1171.9 L904.7,1170.8 L907.7,1169.7 L910.8,1168.6 L913.8,1167.5 L916.8,1166.4 L919.9,1165.3 L922.9,1164.1 L925.9,1163.0 L928.9,1161.9 L932.0,1160.7 L935.0,1159.5 L938.0,1158.4 L941.0,1157.2 L944.0,1156.0 L947.0,1154.8 L950.0,1153.7 L953.0,1152.5 L956.0,1151.2 L959.0,1150.0 L962.0,1148.8 L965.0,1147.6 L968.0,1146.3 L971.0,1145.1 L973.9,1143.8 L976.9,1142.6 L979.9,1141.3 L982.9,1140.0 L985.8,1138.8 L988.8,1137.5 L991.7,1136.2 L994.7,1134.9 L997.7,1133.5 L1000.6,1132.2 L1003.6,1130.9 L1006.5,1129.6 L1009.4,1128.2 L1012.4,1126.9 L1015.3,1125.5 L1018.2,1124.1 L1021.2,1122.8 L1024.1,1121.4 L1027.1,1120.0 L1030.0,1118.6 L1032.9,1117.2 L1035.8,1115.8 L1038.8,1114.4 L1041.7,1112.9 L1044.6,1111.5 L1047.5,1110.0 L1050.4,1108.6 L1053.3,1107.1 L1056.2,1105.7 L1059.1,1104.2 L1062.0,1102.7 L1064.9,1101.2 L1067.8,1099.7 L1070.7,1098.2 L1073.5,1096.7 L1076.4,1095.1 L1079.3,1093.6 L1082.1,1092.1 L1085.0,1090.5 L1087.8,1088.9 L1090.7,1087.4 L1093.5,1085.8 L1096.4,1084.2 L1099.2,1082.6 L1102.0,1081.0 L1104.9,1079.4 L1107.7,1077.8 L1110.5,1076.1 L1113.3,1074.5 L1116.1,1072.8 L1118.9,1071.2 L1121.7,1069.5 L1124.5,1067.8 L1127.3,1066.1 L1130.1,1064.5 L1132.9,1062.7 L1135.6,1061.0 L1138.4,1059.3 L1141.1,1057.6 L1143.9,1055.8 L1146.7,1054.1 L1149.4,1052.4 L1152.2,1050.6 L1154.9,1048.9 L1157.7,1047.1 L1160.4,1045.4 L1163.2,1043.7 L1165.9,1041.9 L1168.7,1040.2 L1171.5,1038.5 L1174.2,1036.8 L1177.0,1035.2 L1179.8,1033.5 L1182.6,1031.9 L1185.5,1030.3 L1188.3,1028.7 L1191.2,1027.1 L1194.1,1025.6 L1197.0,1024.1 L1199.9,1022.6 L1202.9,1021.2 L1205.8,1019.8 L1208.8,1018.4 L1211.7,1017.0 L1214.7,1015.6 L1217.6,1014.2 L1220.5,1012.6 L1223.4,1011.0 L1226.2,1009.3 L1229.0,1007.6 L1231.7,1005.8 L1234.5,1004.0 L1237.3,1002.2 L1240.0,1000.4 L1242.8,998.6 L1245.5,996.7 L1248.2,994.8 L1250.9,992.9 L1253.6,991.0 L1256.3,989.1 L1259.0,987.2 L1261.7,985.3 L1264.3,983.3 L1267.0,981.3 L1269.6,979.4 L1272.3,977.4 L1274.9,975.4 L1277.6,973.4 L1280.2,971.4 L1282.8,969.4 L1285.4,967.3 L1288.0,965.3 L1290.6,963.3 L1293.3,961.2 L1295.9,959.2 L1298.5,957.1 L1301.0,955.1 L1303.6,953.0 L1306.2,950.9 L1308.8,948.9 L1311.4,946.8 L1314.0,944.7 L1316.6,942.6 L1319.1,940.5 L1321.7,938.4 L1324.2,936.4 L1326.6,934.2 L1329.1,932.1 L1331.6,930.0 L1334.1,927.9 L1336.5,925.8 L1339.0,923.7 L1341.5,921.5 L1343.9,919.4 L1346.4,917.3 L1348.8,915.1 L1351.3,913.0 L1353.7,910.8 L1356.1,908.7 L1358.6,906.5 L1361.0,904.3 L1363.4,902.2 L1365.8,900.0 L1368.3,897.8 L1370.7,895.6 L1373.1,893.4 L1375.5,891.2 L1377.9,889.0 L1380.3,886.8 L1382.7,884.6 L1385.1,882.4 L1387.4,880.2 L1389.8,878.0 L1392.2,875.8 L1394.6,873.5 L1396.9,871.3 L1399.3,869.1 L1401.7,866.8 L1404.0,864.6 L1406.5,862.3 L1408.9,860.1 L1411.3,857.8 L1413.7,855.5 L1416.1,853.3 L1418.5,851.0 L1420.9,848.7 L1423.3,846.5 L1425.7,844.2 L1428.1,841.9 L1430.5,839.6 L1432.9,837.3 L1435.2,835.0 L1437.6,832.7 L1440.0,830.4 L1442.3,828.0 L1444.7,825.7 L1447.0,823.4 L1449.4,821.1 L1451.7,818.7 L1454.1,816.4 L1456.4,814.1 L1458.7,811.7 L1461.0,809.4 L1463.4,807.0 L1465.7,804.7 L1468.0,802.3 L1470.3,799.9 L1472.6,797.6 L1474.9,795.2 L1477.2,792.8 L1479.5,790.4 L1481.8,788.0 L1484.1,785.6 L1486.3,783.3 L1488.6,780.9 L1490.8,778.4 L1493.0,776.0 L1495.1,773.6 L1497.3,771.2 L1499.4,768.8 L1501.6,766.4 L1503.7,763.9 L1505.8,761.5 L1508.0,759.1 L1510.1,756.6 L1512.2,754.2 L1514.3,751.7 L1516.4,749.3 L1518.5,746.8 L1520.6,744.4 L1522.7,741.9 L1524.8,739.4 L1526.9,737.0 L1529.0,734.5 L1531.0,732.0 L1533.1,729.5 L1535.2,727.0 L1537.2,724.5 L1539.3,722.0 L1541.3,719.5 L1543.4,717.0 L1545.4,714.5 L1547.5,712.0 L1549.6,709.5 L1551.7,707.0 L1553.8,704.5 L1555.8,701.9 L1557.9,699.4 L1559.9,696.9 L1562.0,694.3 L1564.0,691.8 L1566.1,689.2 L1568.1,686.7 L1570.1,684.1 L1572.2,681.6 L1574.2,679.0 L1576.2,676.4 L1578.2,673.9 L1580.2,671.3 L1582.2,668.7 L1584.2,666.1 L1586.2,663.5 L1588.2,660.9 L1590.1,658.4 L1592.1,655.8 L1594.1,653.2 L1596.0,650.6 L1598.0,647.9 L1599.9,645.3 L1601.9,642.7 L1603.8,640.1 L1605.8,637.5 L1607.8,634.9 L1609.8,632.2 L1611.8,629.6 L1613.8,627.0 L1615.9,624.3 L1617.9,621.7 L1619.9,619.0 L1621.9,616.4 L1623.9,613.7 L1625.8,611.1 L1627.8,608.4 L1629.8,605.7 L1631.8,603.1 L1633.8,600.4 L1635.7,597.7 L1637.7,595.1 L1639.6,592.4 L1641.6,589.7 L1643.5,587.0 L1645.5,584.3 L1647.4,581.6 L1649.3,578.9 L1651.3,576.2 L1653.2,573.5 L1655.1,570.8 L1657.0,568.1 L1658.9,565.4 L1660.8,562.7 L1662.7,560.0 L1664.6,557.2 L1666.4,554.5 L1668.1,551.8 L1669.8,549.1 L1671.5,546.3 L1673.2,543.6 L1674.9,540.9 L1676.6,538.1 L1678.3,535.4 L1680.0,532.6 L1681.6,529.9 L1683.3,527.1 L1685.0,524.4 L1686.6,521.6 L1688.3,518.8 L1689.9,516.1 L1691.6,513.3 L1693.2,510.5 L1694.9,507.7 L1696.5,505.0 L1698.1,502.2 L1699.7,499.4 L1701.3,496.6 L1703.0,493.8 L1704.6,491.0 L1706.2,488.2 L1707.8,485.4 L1709.4,482.6 L1710.9,479.8 L1712.5,477.0 L1714.1,474.2 L1715.7,471.4 L1717.3,468.6 L1718.8,465.8 L1720.4,463.0 L1721.9,460.1 L1723.5,457.3 L1725.1,454.5 L1726.6,451.7 L1728.2,448.8 L1729.7,446.0 L1731.2,443.2 L1732.8,440.3 L1734.3,437.5 L1735.8,434.6 L1737.3,431.8 L1738.8,428.9 L1740.4,426.1 L1741.9,423.2 L1743.4,420.4 L1744.9,417.5 L1746.3,414.7 L1747.8,411.8 L1749.3,408.9 L1750.8,406.1 L1752.3,403.2 L1753.7,400.3 L1755.2,397.5 L1756.7,394.6 L1758.1,391.7 L1759.6,388.8 L1761.0,385.9 L1762.5,383.1 L1763.9,380.2 L1765.4,377.3 L1766.9,374.4 L1768.4,371.5 L1769.9,368.6 L1771.4,365.7 L1772.9,362.8 L1774.4,359.9 L1775.9,357.0 L1777.3,354.1 L1778.8,351.2 L1780.3,348.3 L1781.7,345.4 L1783.2,342.4 L1784.6,339.5 L1786.1,336.6 L1787.5,333.7 L1789.0,330.8 L1790.4,327.8 L1791.8,324.9 L1793.3,322.0 L1794.7,319.1 L1796.1,316.1 L1797.5,313.2 L1798.9,310.3 L1800.4,307.3 L1801.8,304.4 L1803.2,301.4 L1804.5,298.5 L1805.8,295.5 L1807.1,292.6 L1808.3,289.7 L1809.6,286.7 L1810.9,283.8 L1812.1,280.8 L1813.4,277.9 L1814.7,274.9 L1815.9,271.9 L1817.1,269.0 L1818.4,266.0 L1819.6,263.1 L1820.9,260.1 L1822.1,257.1 L1823.3,254.2 L1824.5,251.2 L1825.8,248.2 L1827.0,245.3 L1828.2,242.3 L1829.4,239.3 L1830.6,236.3 L1831.8,233.4 L1833.0,230.4 L1834.2,227.4 L1835.4,224.4 L1836.5,221.4 L1837.8,218.4 L1839.1,215.5 L1840.5,212.5 L1841.8,209.5 L1843.1,206.5 L1844.4,203.5 L1845.7,200.5 L1847.0,197.5 L1848.3,194.5 L1849.6,191.5 L1850.9,188.5 L1852.2,185.5 L1853.5,182.5 L1854.7,179.5 L1856.0,176.5 L1857.3,173.5 L1858.6,170.5 L1859.8,167.5 L1861.1,164.5 L1862.3,161.5 L1863.5,158.5 L1864.7,155.5 L1865.8,152.5 L1867.0,149.5 L1868.1,146.5 L1869.3,143.5 L1870.4,140.4 L1871.5,137.4 L1872.7,134.4 L1873.8,131.4 L1874.9,128.4 L1876.0,125.4 L1877.1,122.3 L1878.2,119.3 L1879.3,116.3 L1880.4,113.3 L1881.5,110.3 L1882.6,107.2 L1883.7,104.2 L1884.8,101.2 L1886.0,98.2 L1887.2,95.1 L1888.5,92.1 L1889.7,89.1 L1890.7,86.7" stroke="#ff00ff" stroke-dasharray="27.5 27.3 5 26.5 5 26.5" stroke-dashoffset="13.3"/>
<path d="M481.3,1255.6 L484.6,1255.4 L487.8,1255.3 L491.0,1255.1 L494.2,1254.9 L497.4,1254.7 L500.6,1254.5 L503.8,1254.3 L507.0,1254.1 L510.2,1253.9 L513.4,1253.7 L516.7,1253.4 L519.9,1253.2 L523.1,1252.9 L526.3,1252.7 L529.5,1252.4 L532.7,1252.1 L535.9,1251.8 L539.1,1251.6 L542.3,1251.3 L545.5,1251.0 L548.7,1250.7 L552.0,1250.3 L555.2,1250.0 L558.4,1249.7 L561.6,1249.4 L564.8,1249.0 L568.0,1248.7 L571.2,1248.3 L574.4,1247.9 L577.6,1247.6 L580.8,1247.2 L584.0,1246.8 L587.2,1246.4 L590.4,1246.0 L593.6,1245.6 L596.8,1245.2 L600.0,1244.7 L603.2,1244.3 L606.4,1243.9 L609.6,1243.4 L612.8,1243.0 L616.0,1242.5 L619.2,1242.1 L622.4,1241.6 L625.6,1241.1 L628.8,1240.6 L632.0,1240.1 L635.2,1239.6 L638.4,1239.1 L641.6,1238.6 L644.8,1238.1 L648.0,1237.5 L651.2,1237.0 L654.4,1236.5 L657.5,1235.9 L660.7,1235.4 L663.9,1234.8 L667.1,1234.2 L670.3,1233.6 L673.5,1233.1 L676.7,1232.5 L679.8,1231.9 L683.0,1231.3 L686.2,1230.6 L689.4,1230.0 L692.6,1229.4 L695.7,1228.8 L698.9,1228.1 L702.1,1227.5 L705.3,1226.8 L708.5,1226.2 L711.6,1225.5 L714.8,1224.8 L718.0,1224.1 L721.1,1223.4 L724.3,1222.8 L727.5,1222.0 L730.6,1221.3 L733.8,1220.6 L737.0,1219.9 L740.1,1219.2 L743.3,1218.4 L746.5,1217.7 L749.6,1216.9 L752.8,1216.2 L755.9,1215.4 L759.0,1214.6 L762.2,1213.9 L765.3,1213.1 L768.4,1212.3 L771.5,1211.5 L774.7,1210.7 L777.8,1209.9 L780.9,1209.1 L784.0,1208.2 L787.1,1207.4 L790.2,1206.6 L793.3,1205.7 L796.4,1204.9 L799.5,1204.0 L802.6,1203.1 L805.7,1202.3 L808.8,1201.4 L811.9,1200.5 L815.0,1199.6 L818.1,1198.7 L821.2,1197.8 L824.3,1196.9 L827.4,1196.0 L830.5,1195.0 L833.6,1194.1 L836.7,1193.2 L839.7,1192.2 L842.8,1191.3 L845.9,1190.3 L849.0,1189.3 L852.0,1188.4 L855.1,1187.4 L858.2,1186.4 L861.3,1185.4 L864.3,1184.4 L867.4,1183.4 L870.4,1182.4 L873.5,1181.4 L876.6,1180.4 L879.6,1179.3 L882.7,1178.3 L885.7,1177.2 L888.8,1176.2 L891.8,1175.1 L894.8,1174.1 L897.9,1173.0 L900.9,1171.9 L904.0,1170.8 L907.0,1169.7 L910.0,1168.6 L913.1,1167.5 L916.1,1166.4 L919.1,1165.3 L922.1,1164.1 L925.1,1163.0 L928.2,1161.9 L931.2,1160.7 L934.2,1159.5 L937.2,1158.4 L940.2,1157.2 L943.2,1156.0 L946.2,1154.8 L949.2,1153.7 L952.2,1152.5 L955.2,1151.2 L958.2,1150.0 L961.1,1148.8 L964.1,1147.6 L967.1,1146.3 L970.1,1145.1 L973.0,1143.8 L976.0,1142.6 L979.0,1141.3 L981.9,1140.0 L984.9,1138.8 L987.9,1137.5 L990.8,1136.2 L993.8,1134.9 L996.7,1133.5 L999.7,1132.2 L1002.6,1130.9 L1005.5,1129.6 L1008.5,1128.2 L1011.4,1126.9 L1014.3,1125.5 L1017.3,1124.1 L1020.2,1122.8 L1023.1,1121.4 L1026.0,1120.0 L1028.9,1118.6 L1031.9,1117.2 L1034.8,1115.8 L1037.7,1114.4 L1040.6,1112.9 L1043.5,1111.5 L1046.4,1110.0 L1049.3,1108.6 L1052.1,1107.1 L1055.0,1105.7 L1057.9,1104.2 L1060.8,1102.7 L1063.7,1101.2 L1066.5,1099.7 L1069.4,1098.2 L1072.2,1096.7 L1075.1,1095.1 L1077.9,1093.6 L1080.8,1092.1 L1083.6,1090.5 L1086.5,1088.9 L1089.3,1087.4 L1092.1,1085.8 L1094.9,1084.2 L1097.8,1082.6 L1100.6,1081.0 L1103.4,1079.4 L1106.2,1077.8 L1109.0,1076.1 L1111.8,1074.5 L1114.6,1072.8 L1117.4,1071.2 L1120.1,1069.5 L1122.9,1067.8 L1125.7,1066.1 L1128.4,1064.5 L1131.2,1062.7 L1133.9,1061.0 L1136.7,1059.3 L1139.4,1057.6 L1142.2,1055.8 L1144.9,1054.1 L1147.6,1052.4 L1150.4,1050.6 L1153.1,1048.9 L1155.8,1047.1 L1158.6,1045.4 L1161.3,1043.7 L1164.0,1041.9 L1166.8,1040.2 L1169.5,1038.5 L1172.3,1036.8 L1175.1,1035.2 L1177.8,1033.5 L1180.6,1031.9 L1183.4,1030.3 L1186.2,1028.7 L1189.1,1027.1 L1191.9,1025.6 L1194.8,1024.1 L1197.6,1022.6 L1200.5,1021.2 L1203.4,1019.8 L1206.3,1018.4 L1209.3,1017.0 L1212.2,1015.6 L1215.0,1014.2 L1217.9,1012.6 L1220.7,1011.0 L1223.5,1009.3 L1226.2,1007.6 L1228.9,1005.8 L1231.6,1004.0 L1234.3,1002.2 L1237.0,1000.4 L1239.7,998.6 L1242.4,996.7 L1245.0,994.8 L1247.7,992.9 L1250.3,991.0 L1252.9,989.1 L1255.5,987.2 L1258.2,985.3 L1260.8,983.3 L1263.4,981.3 L1265.9,979.4 L1268.5,977.4 L1271.1,975.4 L1273.7,973.4 L1276.2,971.4 L1278.8,969.4 L1281.3,967.3 L1283.9,965.3 L1286.4,963.3 L1289.0,961.2 L1291.5,959.2 L1294.0,957.1 L1296.6,955.1 L1299.1,953.0 L1301.6,950.9 L1304.1,948.9 L1306.7,946.8 L1309.2,944.7 L1311.7,942.6 L1314.2,940.5 L1316.7,938.4 L1319.2,936.4 L1321.6,934.2 L1324.1,932.1 L1326.6,930.0 L1329.1,927.9 L1331.5,925.8 L1334.0,923.7 L1336.5,921.5 L1338.9,919.4 L1341.4,917.3 L1343.8,915.1 L1346.3,913.0 L1348.7,910.8 L1351.1,908.7 L1353.6,906.5 L1356.0,904.3 L1358.4,902.2 L1360.8,900.0 L1363.3,897.8 L1365.7,895.6 L1368.1,893.4 L1370.5,891.2 L1372.9,889.0 L1375.3,886.8 L1377.7,884.6 L1380.1,882.4 L1382.4,880.2 L1384.8,878.0 L1387.2,875.8 L1389.6,873.5 L1391.9,871.3 L1394.3,869.1 L1396.7,866.8 L1399.0,864.6 L1401.4,862.3 L1403.8,860.1 L1406.2,857.8 L1408.6,855.5 L1411.0,853.3 L1413.4,851.0 L1415.7,848.7 L1418.1,846.5 L1420.5,844.2 L1422.8,841.9 L1425.2,839.6 L1427.5,837.3 L1429.9,835.0 L1432.2,832.7 L1434.5,830.4 L1436.9,828.0 L1439.2,825.7 L1441.5,823.4 L1443.9,821.1 L1446.2,818.7 L1448.5,816.4 L1450.8,814.1 L1453.1,811.7 L1455.4,809.4 L1457.7,807.0 L1460.0,804.7 L1462.3,802.3 L1464.5,799.9 L1466.8,797.6 L1469.1,795.2 L1471.4,792.8 L1473.6,790.4 L1475.9,788.0 L1478.1,785.6 L1480.4,783.3 L1482.6,780.9 L1484.9,778.4 L1487.1,776.0 L1489.3,773.6 L1491.6,771.2 L1493.8,768.8 L1496.0,766.4 L1498.2,763.9 L1500.4,761.5 L1502.6,759.1 L1504.8,756.6 L1507.0,754.2 L1509.2,751.7 L1511.4,749.3 L1513.6,746.8 L1515.8,744.4 L1517.9,741.9 L1520.1,739.4 L1522.3,737.0 L1524.4,734.5 L1526.6,732.0 L1528.7,729.5 L1530.8,727.0 L1533.0,724.5 L1535.1,722.0 L1537.2,719.5 L1539.4,717.0 L1541.4,714.5 L1543.5,712.0 L1545.5,709.5 L1547.6,707.0 L1549.6,704.5 L1551.6,701.9 L1553.7,699.4 L1555.7,696.9 L1557.7,694.3 L1559.7,691.8 L1561.7,689.2 L1563.7,686.7 L1565.7,684.1 L1567.7,681.6 L1569.7,679.0 L1571.7,676.4 L1573.7,673.9 L1575.6,671.3 L1577.6,668.7 L1579.6,666.1 L1581.5,663.5 L1583.5,660.9 L1585.4,658.4 L1587.3,655.8 L1589.3,653.2 L1591.2,650.6 L1593.1,647.9 L1595.1,645.3 L1597.0,642.7 L1598.9,640.1 L1600.8,637.5 L1602.7,634.9 L1604.6,632.2 L1606.5,629.6 L1608.4,627.0 L1610.2,624.3 L1612.1,621.7 L1614.0,619.0 L1615.9,616.4 L1617.7,613.7 L1619.6,611.1 L1621.4,608.4 L1623.3,605.7 L1625.1,603.1 L1627.0,600.4 L1628.8,597.7 L1630.6,595.1 L1632.4,592.4 L1634.3,589.7 L1636.1,587.0 L1637.9,584.3 L1639.7,581.6 L1641.5,578.9 L1643.3,576.2 L1645.1,573.5 L1646.8,570.8 L1648.6,568.1 L1650.4,565.4 L1652.2,562.7 L1653.9,560.0 L1655.7,557.2 L1657.4,554.5 L1659.1,551.8 L1660.8,549.1 L1662.5,546.3 L1664.2,543.6 L1665.9,540.9 L1667.6,538.1 L1669.3,535.4 L1671.0,532.6 L1672.6,529.9 L1674.3,527.1 L1676.0,524.4 L1677.6,521.6 L1679.3,518.8 L1680.9,516.1 L1682.6,513.3 L1684.2,510.5 L1685.9,507.7 L1687.5,505.0 L1689.1,502.2 L1690.7,499.4 L1692.3,496.6 L1694.0,493.8 L1695.6,491.0 L1697.2,488.2 L1698.8,485.4 L1700.4,482.6 L1701.9,479.8 L1703.5,477.0 L1705.1,474.2 L1706.7,471.4 L1708.3,468.6 L1709.8,465.8 L1711.4,463.0 L1712.9,460.1 L1714.5,457.3 L1716.1,454.5 L1717.7,451.7 L1719.3,448.8 L1720.9,446.0 L1722.4,443.2 L1724.0,440.3 L1725.6,437.5 L1727.1,434.6 L1728.7,431.8 L1730.2,428.9 L1731.8,426.1 L1733.3,423.2 L1734.9,420.4 L1736.4,417.5 L1737.9,414.7 L1739.4,411.8 L1741.0,408.9 L1742.5,406.1 L1744.0,403.2 L1745.5,400.3 L1747.0,397.5 L1748.5,394.6 L1750.0,391.7 L1751.5,388.8 L1753.0,385.9 L1754.4,383.1 L1755.9,380.2 L1757.4,377.3 L1758.9,374.4 L1760.4,371.5 L1761.9,368.6 L1763.4,365.7 L1764.9,362.8 L1766.4,359.9 L1767.9,357.0 L1769.3,354.1 L1770.8,351.2 L1772.3,348.3 L1773.7,345.4 L1775.2,342.4 L1776.6,339.5 L1778.1,336.6 L1779.5,333.7 L1781.0,330.8 L1782.4,327.8 L1783.8,324.9 L1785.3,322.0 L1786.7,319.1 L1788.1,316.1 L1789.5,313.2 L1790.9,310.3 L1792.4,307.3 L1793.8,304.4 L1795.2,301.4 L1796.6,298.5 L1798.1,295.5 L1799.6,292.6 L1801.1,289.7 L1802.6,286.7 L1804.1,283.8 L1805.6,280.8 L1807.1,277.9 L1808.5,274.9 L1810.0,271.9 L1811.5,269.0 L1812.9,266.0 L1814.4,263.1 L1815.9,260.1 L1817.3,257.1 L1818.8,254.2 L1820.2,251.2 L1821.6,248.2 L1823.1,245.3 L1824.5,242.3 L1825.9,239.3 L1827.4,236.3 L1828.8,233.4 L1830.2,230.4 L1831.6,227.4 L1833.0,224.4 L1834.4,221.4 L1835.8,218.4 L1837.1,215.5 L1838.3,212.5 L1839.6,209.5 L1840.9,206.5 L1842.1,203.5 L1843.4,200.5 L1844.6,197.5 L1845.9,194.5 L1847.1,191.5 L1848.4,188.5 L1849.6,185.5 L1850.8,182.5 L1852.1,179.5 L1853.3,176.5 L1854.5,173.5 L1855.7,170.5 L1857.0,167.5 L1858.2,164.5 L1859.4,161.5 L1860.6,158.5 L1861.9,155.5 L1863.2,152.5 L1864.5,149.5 L1865.8,146.5 L1867.1,143.5 L1868.4,140.4 L1869.7,137.4 L1870.9,134.4 L1872.2,131.4 L1873.5,128.4 L1874.7,125.4 L1876.0,122.3 L1877.3,119.3 L1878.5,116.3 L1879.8,113.3 L1881.0,110.3 L1882.3,107.2 L1883.5,104.2 L1884.7,101.2 L1886.1,98.2 L1887.6,95.1 L1889.0,92.1 L1890.5,89.1 L1891.6,86.7" stroke="#127020" stroke-dasharray="1.4 14.8" stroke-dashoffset="5.8"/>
<path d="M481.3,1255.6 L484.6,1255.4 L487.8,1255.3 L491.0,1255.1 L494.2,1254.9 L497.4,1254.7 L500.6,1254.5 L503.8,1254.3 L507.0,1254.1 L510.2,1253.9 L513.4,1253.7 L516.7,1253.4 L519.9,1253.2 L523.1,1252.9 L526.3,1252.7 L529.5,1252.4 L532.7,1252.1 L535.9,1251.8 L539.1,1251.6 L542.3,1251.3 L545.5,1251.0 L548.7,1250.7 L552.0,1250.3 L555.2,1250.0 L558.4,1249.7 L561.6,1249.4 L564.8,1249.0 L568.0,1248.7 L571.2,1248.3 L574.4,1247.9 L577.6,1247.6 L580.8,1247.2 L584.0,1246.8 L587.2,1246.4 L590.4,1246.0 L593.6,1245.6 L596.8,1245.2 L600.0,1244.7 L603.2,1244.3 L606.4,1243.9 L609.6,1243.4 L612.8,1243.0 L616.0,1242.5 L619.2,1242.1 L622.4,1241.6 L625.6,1241.1 L628.8,1240.6 L632.0,1240.1 L635.2,1239.6 L638.4,1239.1 L641.6,1238.6 L644.8,1238.1 L648.0,1237.5 L651.2,1237.0 L654.4,1236.5 L657.5,1235.9 L660.7,1235.4 L663.9,1234.8 L667.1,1234.2 L670.3,1233.6 L673.5,1233.1 L676.7,1232.5 L679.8,1231.9 L683.0,1231.3 L686.2,1230.6 L689.4,1230.0 L692.6,1229.4 L695.7,1228.8 L698.9,1228.1 L702.1,1227.5 L705.3,1226.8 L708.5,1226.2 L711.6,1225.5 L714.8,1224.8 L718.0,1224.1 L721.1,1223.4 L724.3,1222.8 L727.5,1222.0 L730.6,1221.3 L733.8,1220.6 L737.0,1219.9 L740.1,1219.2 L743.3,1218.4 L746.5,1217.7 L749.6,1216.9 L752.8,1216.2 L755.9,1215.4 L759.0,1214.6 L762.2,1213.9 L765.3,1213.1 L768.4,1212.3 L771.5,1211.5 L774.7,1210.7 L777.8,1209.9 L780.9,1209.1 L784.0,1208.2 L787.1,1207.4 L790.2,1206.6 L793.3,1205.7 L796.4,1204.9 L799.5,1204.0 L802.6,1203.1 L805.7,1202.3 L808.8,1201.4 L811.9,1200.5 L815.0,1199.6 L818.1,1198.7 L821.2,1197.8 L824.3,1196.9 L827.4,1196.0 L830.5,1195.0 L833.6,1194.1 L836.7,1193.2 L839.7,1192.2 L842.8,1191.3 L845.9,1190.3 L849.0,1189.3 L852.0,1188.4 L855.1,1187.4 L858.2,1186.4 L861.3,1185.4 L864.3,1184.4 L867.4,1183.4 L870.4,1182.4 L873.5,1181.4 L876.6,1180.4 L879.6,1179.3 L882.7,1178.3 L885.7,1177.2 L888.8,1176.2 L891.8,1175.1 L894.8,1174.1 L897.9,1173.0 L900.9,1171.9 L904.0,1170.8 L907.0,1169.7 L910.0,1168.6 L913.1,1167.5 L916.1,1166.4 L919.1,1165.3 L922.1,1164.1 L925.1,1163.0 L928.2,1161.9 L931.2,1160.7 L934.2,1159.5 L937.2,1158.4 L940.2,1157.2 L943.2,1156.0 L946.2,1154.8 L949.2,1153.7 L952.2,1152.5 L955.2,1151.2 L958.2,1150.0 L961.1,1148.8 L964.1,1147.6 L967.1,1146.3 L970.1,1145.1 L973.0,1143.8 L976.0,1142.6 L979.0,1141.3 L981.9,1140.0 L984.9,1138.8 L987.9,1137.5 L990.8,1136.2 L993.8,1134.9 L996.7,1133.5 L999.7,1132.2 L1002.6,1130.9 L1005.5,1129.6 L1008.5,1128.2 L1011.4,1126.9 L1014.3,1125.5 L1017.3,1124.1 L1020.2,1122.8 L1023.1,1121.4 L1026.0,1120.0 L1028.9,1118.6 L1031.9,1117.2 L1034.8,1115.8 L1037.7,1114.4 L1040.6,1112.9 L1043.5,1111.5 L1046.4,1110.0 L1049.3,1108.6 L1052.1,1107.1 L1055.0,1105.7 L1057.9,1104.2 L1060.8,1102.7 L1063.7,1101.2 L1066.5,1099.7 L1069.4,1098.2 L1072.2,1096.7 L1075.1,1095.1 L1077.9,1093.6 L1080.8,1092.1 L1083.6,1090.5 L1086.5,1088.9 L1089.3,1087.4 L1092.1,1085.8 L1094.9,1084.2 L1097.8,1082.6 L1100.6,1081.0 L1103.4,1079.4 L1106.2,1077.8 L1109.0,1076.1 L1111.8,1074.5 L1114.6,1072.8 L1117.4,1071.2 L1120.1,1069.5 L1122.9,1067.8 L1125.7,1066.1 L1128.4,1064.5 L1131.2,1062.7 L1133.9,1061.0 L1136.7,1059.3 L1139.4,1057.6 L1142.2,1055.8 L1144.9,1054.1 L1147.6,1052.4 L1150.4,1050.6 L1153.1,1048.9 L1155.8,1047.1 L1158.6,1045.4 L1161.3,1043.7 L1164.0,1041.9 L1166.8,1040.2 L1169.5,1038.5 L1172.3,1036.8 L1175.1,1035.2 L1177.8,1033.5 L1180.6,1031.9 L1183.4,1030.3 L1186.2,1028.7 L1189.1,1027.1 L1191.9,1025.6 L1194.8,1024.1 L1197.6,1022.6 L1200.5,1021.2 L1203.4,1019.8 L1206.3,1018.4 L1209.3,1017.0 L1212.2,1015.6 L1215.0,1014.2 L1217.9,1012.6 L1220.7,1011.0 L1223.5,1009.3 L1226.2,1007.6 L1228.9,1005.8 L1231.6,1004.0 L1234.3,1002.2 L1237.0,1000.4 L1239.7,998.6 L1242.4,996.7 L1245.0,994.8 L1247.7,992.9 L1250.3,991.0 L1252.9,989.1 L1255.5,987.2 L1258.2,985.3 L1260.8,983.3 L1263.4,981.3 L1265.9,979.4 L1268.5,977.4 L1271.1,975.4 L1273.7,973.4 L1276.2,971.4 L1278.8,969.4 L1281.3,967.3 L1283.9,965.3 L1286.4,963.3 L1289.0,961.2 L1291.5,959.2 L1294.0,957.1 L1296.6,955.1 L1299.1,953.0 L1301.6,950.9 L1304.1,948.9 L1306.7,946.8 L1309.2,944.7 L1311.7,942.6 L1314.2,940.5 L1316.7,938.4 L1319.2,936.4 L1321.7,934.2 L1324.2,932.1 L1326.7,930.0 L1329.2,927.9 L1331.7,925.8 L1334.2,923.7 L1336.7,921.5 L1339.2,919.4 L1341.7,917.3 L1344.1,915.1 L1346.6,913.0 L1349.1,910.8 L1351.5,908.7 L1354.0,906.5 L1356.5,904.3 L1358.9,902.2 L1361.4,900.0 L1363.8,897.8 L1366.3,895.6 L1368.7,893.4 L1371.1,891.2 L1373.6,889.0 L1376.0,886.8 L1378.4,884.6 L1380.8,882.4 L1383.2,880.2 L1385.7,878.0 L1388.1,875.8 L1390.5,873.5 L1392.9,871.3 L1395.3,869.1 L1397.6,866.8 L1400.0,864.6 L1402.4,862.3 L1404.8,860.1 L1407.2,857.8 L1409.6,855.5 L1412.0,853.3 L1414.4,851.0 L1416.7,848.7 L1419.1,846.5 L1421.5,844.2 L1423.8,841.9 L1426.2,839.6 L1428.5,837.3 L1430.9,835.0 L1433.2,832.7 L1435.5,830.4 L1437.9,828.0 L1440.2,825.7 L1442.5,823.4 L1444.9,821.1 L1447.2,818.7 L1449.5,816.4 L1451.8,814.1 L1454.1,811.7 L1456.4,809.4 L1458.7,807.0 L1461.0,804.7 L1463.3,802.3 L1465.5,799.9 L1467.8,797.6 L1470.1,795.2 L1472.4,792.8 L1474.6,790.4 L1476.9,788.0 L1479.1,785.6 L1481.4,783.3 L1483.6,780.9 L1485.9,778.4 L1488.1,776.0 L1490.3,773.6 L1492.6,771.2 L1494.8,768.8 L1497.0,766.4 L1499.2,763.9 L1501.4,761.5 L1503.6,759.1 L1505.8,756.6 L1508.0,754.2 L1510.2,751.7 L1512.4,749.3 L1514.6,746.8 L1516.8,744.4 L1518.9,741.9 L1521.1,739.4 L1523.3,737.0 L1525.4,734.5 L1527.6,732.0 L1529.7,729.5 L1531.8,727.0 L1534.0,724.5 L1536.1,722.0 L1538.2,719.5 L1540.4,717.0 L1542.4,714.5 L1544.5,712.0 L1546.6,709.5 L1548.7,707.0 L1550.8,704.5 L1552.8,701.9 L1554.9,699.4 L1556.9,696.9 L1559.0,694.3 L1561.0,691.8 L1563.1,689.2 L1565.1,686.7 L1567.1,684.1 L1569.2,681.6 L1571.2,679.0 L1573.2,676.4 L1575.2,673.9 L1577.2,671.3 L1579.2,668.7 L1581.2,666.1 L1583.2,663.5 L1585.2,660.9 L1587.1,658.4 L1589.1,655.8 L1591.1,653.2 L1593.0,650.6 L1595.0,647.9 L1596.9,645.3 L1598.9,642.7 L1600.8,640.1 L1602.8,637.5 L1604.7,634.9 L1606.6,632.2 L1608.5,629.6 L1610.4,627.0 L1612.2,624.3 L1614.1,621.7 L1616.0,619.0 L1617.9,616.4 L1619.7,613.7 L1621.6,611.1 L1623.4,608.4 L1625.3,605.7 L1627.1,603.1 L1629.0,600.4 L1630.8,597.7 L1632.6,595.1 L1634.4,592.4 L1636.3,589.7 L1638.1,587.0 L1639.9,584.3 L1641.7,581.6 L1643.5,578.9 L1645.3,576.2 L1647.1,573.5 L1648.8,570.8 L1650.6,568.1 L1652.4,565.4 L1654.2,562.7 L1655.9,560.0 L1657.7,557.2 L1659.5,554.5 L1661.3,551.8 L1663.1,549.1 L1664.9,546.3 L1666.8,543.6 L1668.6,540.9 L1670.4,538.1 L1672.2,535.4 L1674.0,532.6 L1675.7,529.9 L1677.5,527.1 L1679.3,524.4 L1681.1,521.6 L1682.8,518.8 L1684.6,516.1 L1686.4,513.3 L1688.1,510.5 L1689.9,507.7 L1691.6,505.0 L1693.4,502.2 L1695.1,499.4 L1696.8,496.6 L1698.6,493.8 L1700.3,491.0 L1702.0,488.2 L1703.7,485.4 L1705.4,482.6 L1707.1,479.8 L1708.8,477.0 L1710.5,474.2 L1712.2,471.4 L1713.9,468.6 L1715.6,465.8 L1717.3,463.0 L1718.9,460.1 L1720.5,457.3 L1722.1,454.5 L1723.7,451.7 L1725.3,448.8 L1726.9,446.0 L1728.4,443.2 L1730.0,440.3 L1731.6,437.5 L1733.1,434.6 L1734.7,431.8 L1736.2,428.9 L1737.8,426.1 L1739.3,423.2 L1740.9,420.4 L1742.4,417.5 L1743.9,414.7 L1745.4,411.8 L1747.0,408.9 L1748.5,406.1 L1750.0,403.2 L1751.5,400.3 L1753.0,397.5 L1754.5,394.6 L1756.0,391.7 L1757.5,388.8 L1759.0,385.9 L1760.4,383.1 L1761.9,380.2 L1763.3,377.3 L1764.7,374.4 L1766.1,371.5 L1767.5,368.6 L1768.9,365.7 L1770.2,362.8 L1771.6,359.9 L1773.0,357.0 L1774.4,354.1 L1775.7,351.2 L1777.1,348.3 L1778.4,345.4 L1779.8,342.4 L1781.1,339.5 L1782.5,336.6 L1783.8,333.7 L1785.1,330.8 L1786.5,327.8 L1787.8,324.9 L1789.1,322.0 L1790.4,319.1 L1791.7,316.1 L1793.0,313.2 L1794.3,310.3 L1795.6,307.3 L1796.9,304.4 L1798.2,301.4 L1799.7,298.5 L1801.3,295.5 L1802.9,292.6 L1804.5,289.7 L1806.1,286.7 L1807.7,283.8 L1809.3,280.8 L1810.9,277.9 L1812.5,274.9 L1814.1,271.9 L1815.6,269.0 L1817.2,266.0 L1818.8,263.1 L1820.3,260.1 L1821.9,257.1 L1823.5,254.2 L1825.0,251.2 L1826.6,248.2 L1828.1,245.3 L1829.7,242.3 L1831.2,239.3 L1832.8,236.3 L1834.3,233.4 L1835.8,230.4 L1837.4,227.4 L1838.9,224.4 L1840.4,221.4 L1841.8,218.4 L1843.2,215.5 L1844.6,212.5 L1846.0,209.5 L1847.3,206.5 L1848.7,203.5 L1850.0,200.5 L1851.4,197.5 L1852.7,194.5 L1854.1,191.5 L1855.4,188.5 L1856.8,185.5 L1858.1,182.5 L1859.4,179.5 L1860.7,176.5 L1862.1,173.5 L1863.4,170.5 L1864.7,167.5 L1866.0,164.5 L1867.3,161.5 L1868.5,158.5 L1869.7,155.5 L1870.8,152.5 L1872.0,149.5 L1873.1,146.5 L1874.3,143.5 L1875.4,140.4 L1876.5,137.4 L1877.7,134.4 L1878.8,131.4 L1879.9,128.4 L1881.0,125.4 L1882.1,122.3 L1883.2,119.3 L1884.3,116.3 L1885.4,113.3 L1886.5,110.3 L1887.6,107.2 L1888.7,104.2 L1889.8,101.2 L1891.0,98.2 L1892.2,95.1 L1893.5,92.1 L1894.7,89.1 L1895.7,86.7" stroke="#000080" stroke-dasharray="24.1 17 1.1 19.5" stroke-dashoffset="38.1"/>
</g>
<rect x="379.8" y="16.9" width="1586.2" height="1291.3" fill="none" stroke="#000" stroke-width="8.6"/>
<path d="M380.0,1308.2V1279.2 M380.0,16.9V43.9 M516.7,1308.2V1291.2 M516.7,16.9V31.9 M653.5,1308.2V1279.2 M653.5,16.9V43.9 M790.2,1308.2V1291.2 M790.2,16.9V31.9 M926.9,1308.2V1279.2 M926.9,16.9V43.9 M1063.6,1308.2V1291.2 M1063.6,16.9V31.9 M1200.3,1308.2V1279.2 M1200.3,16.9V43.9 M1337.1,1308.2V1291.2 M1337.1,16.9V31.9 M1473.8,1308.2V1279.2 M1473.8,16.9V43.9 M1610.5,1308.2V1291.2 M1610.5,16.9V31.9 M1747.2,1308.2V1279.2 M1747.2,16.9V43.9 M1884.0,1308.2V1291.2 M1884.0,16.9V31.9 M379.8,1261.9H406.8 M1966.0,1261.9H1939.0 M379.8,1146.6H394.8 M1966.0,1146.6H1951.0 M379.8,1031.3H406.8 M1966.0,1031.3H1939.0 M379.8,916.0H394.8 M1966.0,916.0H1951.0 M379.8,800.7H406.8 M1966.0,800.7H1939.0 M379.8,685.4H394.8 M1966.0,685.4H1951.0 M379.8,570.1H406.8 M1966.0,570.1H1939.0 M379.8,454.8H394.8 M1966.0,454.8H1951.0 M379.8,339.5H406.8 M1966.0,339.5H1939.0 M379.8,224.2H394.8 M1966.0,224.2H1951.0 M379.8,108.9H406.8 M1966.0,108.9H1939.0" stroke="#000" stroke-width="8.2" fill="none"/>
<text x="353" y="1255.6" font-size="77" text-anchor="end" dominant-baseline="central" font-family="'Liberation Serif','Times New Roman',serif">0</text>
<text x="353" y="1025.0" font-size="77" text-anchor="end" dominant-baseline="central" font-family="'Liberation Serif','Times New Roman',serif">500</text>
<text x="353" y="794.4" font-size="77" text-anchor="end" dominant-baseline="central" font-family="'Liberation Serif','Times New Roman',serif">1000</text>
<text x="353" y="563.8" font-size="77" text-anchor="end" dominant-baseline="central" font-family="'Liberation Serif','Times New Roman',serif">1500</text>
<text x="353" y="333.2" font-size="77" text-anchor="end" dominant-baseline="central" font-family="'Liberation Serif','Times New Roman',serif">2000</text>
<text x="353" y="102.6" font-size="77" text-anchor="end" dominant-baseline="central" font-family="'Liberation Serif','Times New Roman',serif">2500</text>
<text x="377.0" y="1390.5" font-size="76" text-anchor="middle" font-family="'Liberation Serif','Times New Roman',serif">2.5</text>
<text x="653.5" y="1390.5" font-size="76" text-anchor="middle" font-family="'Liberation Serif','Times New Roman',serif">3.0</text>
<text x="926.9" y="1390.5" font-size="76" text-anchor="middle" font-family="'Liberation Serif','Times New Roman',serif">3.5</text>
<text x="1200.3" y="1390.5" font-size="76" text-anchor="middle" font-family="'Liberation Serif','Times New Roman',serif">4.0</text>
<text x="1473.8" y="1390.5" font-size="76" text-anchor="middle" font-family="'Liberation Serif','Times New Roman',serif">4.5</text>
<text x="1747.2" y="1390.5" font-size="76" text-anchor="middle" font-family="'Liberation Serif','Times New Roman',serif">5.0</text>
<text transform="translate(1172.5,1522.8) scale(0.9505,1)" font-size="80.5" text-anchor="middle" font-family="'Liberation Serif','Times New Roman',serif">Forward voltage (V)</text>
<text transform="translate(87.2,681.45) rotate(-90) scale(0.99,1)" font-size="77" text-anchor="middle" font-family="'Liberation Serif','Times New Roman',serif">Current density (A/cm<tspan font-size="48" dx="1.8" dy="-37.5">2</tspan><tspan dx="-0.7" dy="37.5">)</tspan></text>
<path d="M638.4,197H783.5" stroke="#000000" stroke-width="8.5" stroke-linecap="round" fill="none"/>
<text x="798.8" y="218.2" font-size="64" style="font-kerning:none" font-family="'Liberation Serif','Times New Roman',serif">Device A (Flat)</text>
<path d="M638.4,277H783.5" stroke="#ff0000" stroke-width="8.5" stroke-linecap="round" fill="none" stroke-dasharray="32.5 44.5"/>
<text x="798.8" y="298" font-size="64" style="font-kerning:none" font-family="'Liberation Serif','Times New Roman',serif">Device B (Concave)</text>
<path d="M638.4,364H783.5" stroke="#0000ff" stroke-width="8.5" stroke-linecap="round" fill="none" stroke-dasharray="40.2 26.5 4 27.1"/>
<text x="798.8" y="385.2" font-size="64" style="font-kerning:none" font-family="'Liberation Serif','Times New Roman',serif">Device C (2 µm)</text>
<path d="M638.4,451.5H783.5" stroke="#ff00ff" stroke-width="8.5" stroke-linecap="round" fill="none" stroke-dasharray="27.5 27.3 5 26.5 5 26.5"/>
<text x="798.8" y="472.6" font-size="64" style="font-kerning:none" font-family="'Liberation Serif','Times New Roman',serif">Device D (2.5 µm)</text>
<path d="M638.4,539.6H783.5" stroke="#127020" stroke-width="8.5" stroke-linecap="round" fill="none" stroke-dasharray="1.4 14.8"/>
<text x="798.8" y="560.2" font-size="64" style="font-kerning:none" font-family="'Liberation Serif','Times New Roman',serif">Device E (3 µm)</text>
<path d="M638.4,627H783.5" stroke="#000080" stroke-width="8.5" stroke-linecap="round" fill="none" stroke-dasharray="24.1 17 1.1 19.5"/>
<text x="798.8" y="648" font-size="64" style="font-kerning:none" font-family="'Liberation Serif','Times New Roman',serif">Device F (3.5 µm)</text>
</svg>
</body></html>
